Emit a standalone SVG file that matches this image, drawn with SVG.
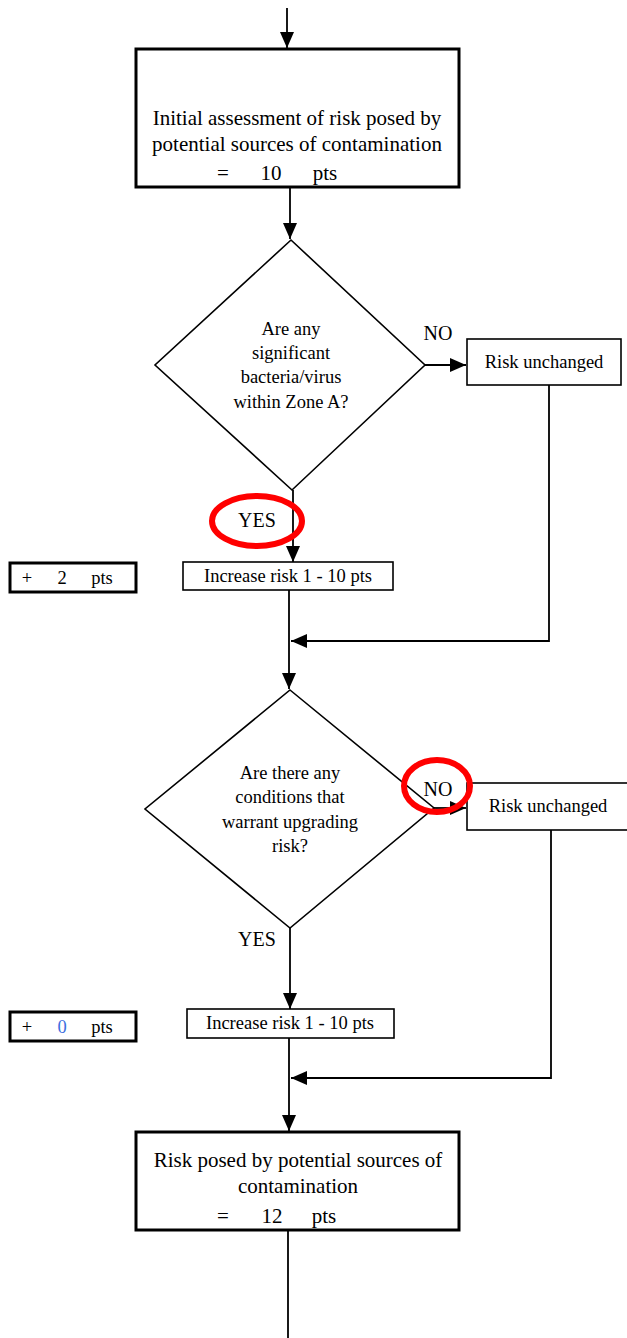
<svg xmlns="http://www.w3.org/2000/svg" width="627" height="1338" viewBox="0 0 627 1338">
<style>
text{font-family:"Liberation Serif","Times New Roman",serif;fill:#000;}
.big{font-size:21px;}
.mid{font-size:18.5px;}
.lbl{font-size:20px;}
.c{text-anchor:middle;}
.thick{fill:#fff;stroke:#000;stroke-width:3;}
.thin{fill:#fff;stroke:#000;stroke-width:1.6;}
.line{fill:none;stroke:#000;stroke-width:1.8;}
.ring{fill:none;stroke:#f00;stroke-width:6;}
</style>
<defs>
<marker id="ah" markerUnits="userSpaceOnUse" markerWidth="16" markerHeight="14" refX="16" refY="7" orient="auto">
<path d="M0,0 L16,7 L0,14 Z" fill="#000"/>
</marker>
</defs>
<g id="connectors">
<path class="line" d="M287,8 V48" marker-end="url(#ah)"/>
<path class="line" d="M290,187 V239" marker-end="url(#ah)"/>
<path class="line" d="M425,365 H466" marker-end="url(#ah)"/>
<path class="line" d="M293,490 V562" marker-end="url(#ah)"/>
<path class="line" d="M549,385 V641 H291" marker-end="url(#ah)"/>
<path class="line" d="M289,590 V689" marker-end="url(#ah)"/>
<path class="line" d="M434,808 H466" marker-end="url(#ah)"/>
<path class="line" d="M290,928 V1009" marker-end="url(#ah)"/>
<path class="line" d="M551,830 V1078 H291" marker-end="url(#ah)"/>
<path class="line" d="M289,1038 V1131" marker-end="url(#ah)"/>
<path class="line" d="M288,1230 V1338"/>
</g>
<g id="start">
<rect class="thick" x="136" y="49" width="323" height="138"/>
<text class="big c" x="297" y="125">Initial assessment of risk posed by</text>
<text class="big c" x="297" y="151">potential sources of contamination</text>
<text class="big c" x="223" y="180">=</text>
<text class="big c" x="271" y="180">10</text>
<text class="big c" x="325" y="180">pts</text>
</g>
<g id="q1">
<polygon class="thin" points="291,240 425,365 292,490 155,365"/>
<text class="mid c" x="291" y="335">Are any</text>
<text class="mid c" x="291" y="359">significant</text>
<text class="mid c" x="291" y="383">bacteria/virus</text>
<text class="mid c" x="291" y="408">within Zone A?</text>
</g>
<g id="no1">
<text class="lbl c" x="438" y="340">NO</text>
</g>
<g id="unchanged1">
<rect class="thin" x="467" y="339" width="154" height="46"/>
<text class="mid c" x="544" y="368">Risk unchanged</text>
</g>
<g id="yes1">
<text class="lbl c" x="257" y="527">YES</text>
<ellipse class="ring" cx="257" cy="521" rx="45" ry="25"/>
</g>
<g id="pts1">
<rect class="thick" x="10" y="563" width="126" height="29"/>
<text class="mid c" x="27" y="584">+</text>
<text class="mid c" x="62" y="584">2</text>
<text class="mid c" x="102" y="584">pts</text>
</g>
<g id="increase1">
<rect class="thin" x="183" y="562" width="210" height="28"/>
<text class="mid c" x="288" y="582">Increase risk 1 - 10 pts</text>
</g>
<g id="q2">
<polygon class="thin" points="290,690 434,808 290,928 145,809"/>
<text class="mid c" x="290" y="779">Are there any</text>
<text class="mid c" x="290" y="803">conditions that</text>
<text class="mid c" x="290" y="828">warrant upgrading</text>
<text class="mid c" x="290" y="852">risk?</text>
</g>
<g id="unchanged2">
<rect class="thin" x="467" y="783" width="162" height="47"/>
<text class="mid c" x="548" y="812">Risk unchanged</text>
</g>
<g id="no2">
<text class="lbl c" x="438" y="796">NO</text>
<ellipse class="ring" cx="437" cy="786" rx="33" ry="26"/>
</g>
<g id="yes2">
<text class="lbl c" x="257" y="946">YES</text>
</g>
<g id="pts2">
<rect class="thick" x="10" y="1012" width="126" height="29"/>
<text class="mid c" x="27" y="1033">+</text>
<text class="mid c" x="62" y="1033" style="fill:#3b6fe0">0</text>
<text class="mid c" x="102" y="1033">pts</text>
</g>
<g id="increase2">
<rect class="thin" x="187" y="1009" width="207" height="29"/>
<text class="mid c" x="290" y="1029">Increase risk 1 - 10 pts</text>
</g>
<g id="result">
<rect class="thick" x="136" y="1132" width="323" height="98"/>
<text class="big c" x="298" y="1167">Risk posed by potential sources of</text>
<text class="big c" x="298" y="1193">contamination</text>
<text class="big c" x="223" y="1223">=</text>
<text class="big c" x="272" y="1223">12</text>
<text class="big c" x="324" y="1223">pts</text>
</g>
</svg>
